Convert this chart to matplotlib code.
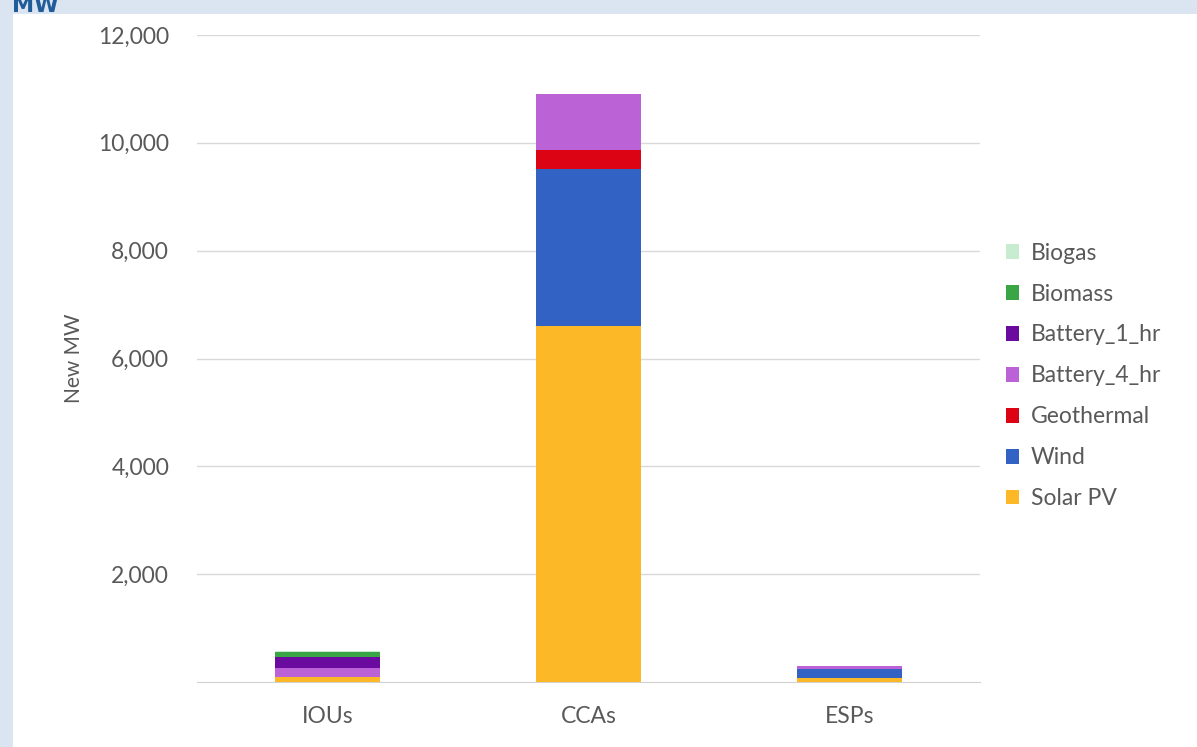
import numpy as np
import matplotlib
matplotlib.use("Agg")
import matplotlib.pyplot as plt
from matplotlib.patches import Rectangle

# Data (MW)
categories = ["IOUs", "CCAs", "ESPs"]
series = ["Solar PV", "Wind", "Geothermal", "Battery_4_hr", "Battery_1_hr", "Biomass", "Biogas"]
solar_pv = [100, 6600, 70]
wind = [0, 2920, 180]
geothermal = [0, 340, 0]
battery_4_hr = [165, 1040, 50]
battery_1_hr = [200, 0, 0]
biomass = [95, 0, 0]
biogas = [15, 0, 0]
yticks = [2000, 4000, 6000, 8000, 10000, 12000]

colors = ["#fdb827", "#3262c3", "#dc0414", "#bb62d6", "#6a0a9e", "#3aa545", "#c8ecd0"]
values = [solar_pv, wind, geothermal, battery_4_hr, battery_1_hr, biomass, biogas]

plt.rcParams["font.family"] = ["Lato", "DejaVu Sans"]
text_color = "#595959"

fig = plt.figure(figsize=(11.97, 7.47), dpi=100)
fig.patch.set_facecolor("#dbe5f1")
fig.patches.append(Rectangle((13 / 1197, 0), 1, 1 - 14 / 747, transform=fig.transFigure,
                             facecolor="white", edgecolor="none", zorder=-10))
fig.text(12 / 1197, 1 + 4 / 747, "MW", color="#1f5c99", fontsize=16, fontweight="bold",
         va="top", ha="left", family="DejaVu Sans")

ax = fig.add_axes([197 / 1197, 1 - 682 / 747, (980 - 197) / 1197, (682 - 35) / 747])
ax.set_facecolor("none")
ax.set_zorder(1)

x = np.arange(len(categories))
bottom = np.zeros(len(categories))
handles = []
for name, vals, c in zip(series, values, colors):
    h = ax.bar(x, vals, width=0.4, bottom=bottom, color=c, label=name, zorder=3)
    handles.append(h)
    bottom += np.array(vals)

ax.set_xlim(-0.5, 2.5)
ax.set_ylim(0, 12000)
ax.set_yticks(yticks)
ax.set_yticklabels([f"{v:,}" for v in yticks])
ax.set_xticks(x)
ax.set_xticklabels(categories)
ax.grid(axis="y", color="#d9d9d9", linewidth=1, zorder=0)
for s in ["top", "right", "left"]:
    ax.spines[s].set_visible(False)
ax.spines["bottom"].set_color("#d0d0d0")
ax.tick_params(length=0, labelsize=16.5, colors=text_color, pad=20)
ax.tick_params(axis="x", pad=17)
ax.set_ylabel("New MW", fontsize=15, color=text_color, labelpad=10)

fig.legend(handles[::-1], series[::-1], loc="upper left",
           bbox_to_anchor=(985 / 1197, 1 - 222 / 747), frameon=False,
           fontsize=16.5, labelcolor=text_color, handlelength=0.6, handleheight=0.6,
           handletextpad=0.5, labelspacing=0.87)

fig.savefig("out.png", dpi=100, facecolor=fig.get_facecolor())
